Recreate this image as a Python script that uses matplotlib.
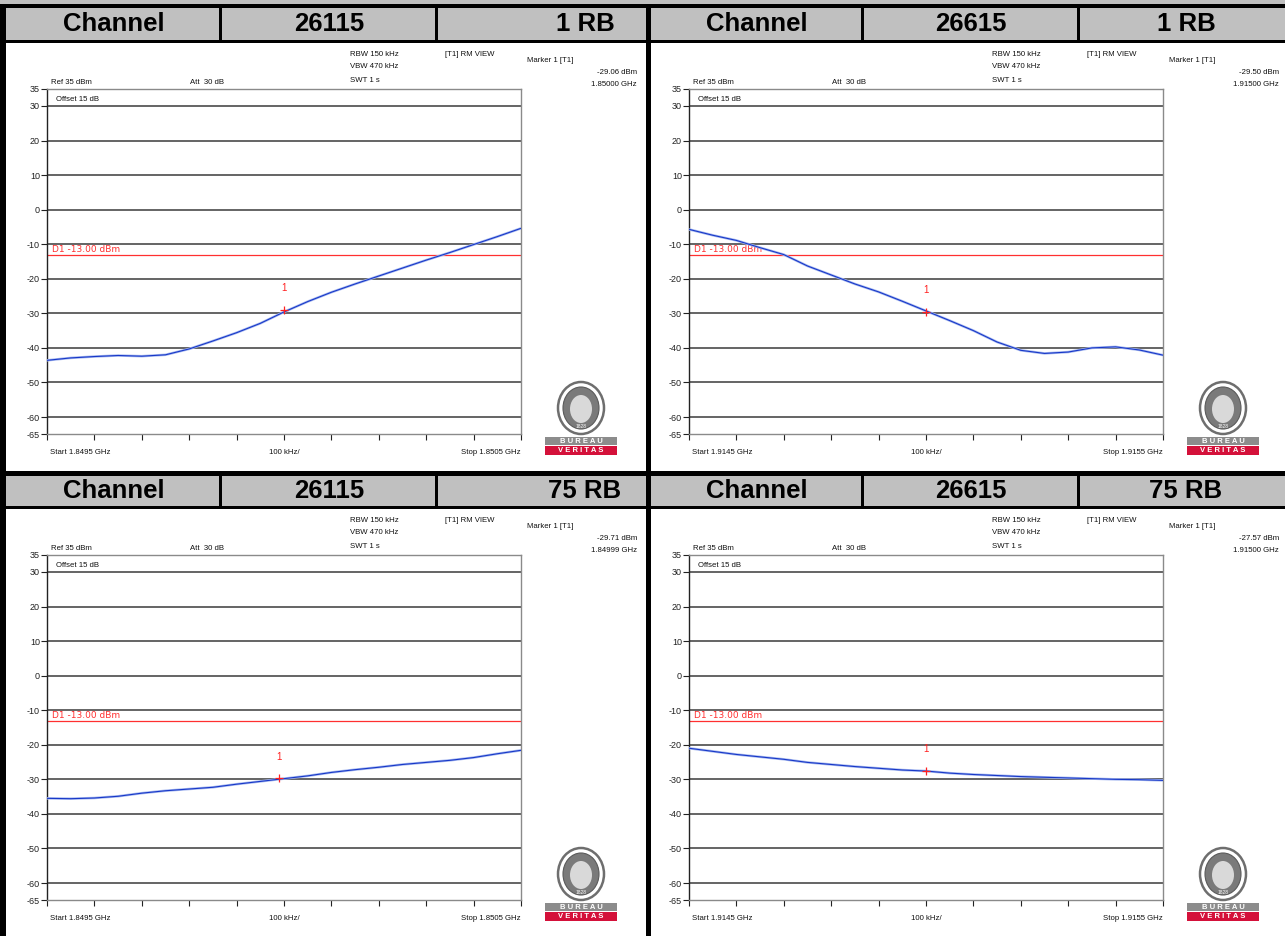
import matplotlib
matplotlib.use("Agg")
import matplotlib.pyplot as plt
from matplotlib.patches import Rectangle, Ellipse
import numpy as np

plt.rcParams['font.family'] = ['Liberation Sans', 'DejaVu Sans']

# ---------------- data ----------------
freq_khz = [0, 50, 100, 150, 200, 250, 300, 350, 400, 450, 500,
            550, 600, 650, 700, 750, 800, 850, 900, 950, 1000]

trace_26115_1rb = [-43.6, -42.9, -42.5, -42.2, -42.4, -42.0, -40.3, -38.0, -35.6, -32.9, -29.6,
                   -26.6, -23.9, -21.5, -19.2, -16.9, -14.6, -12.4, -10.1, -7.8, -5.4]
trace_26615_1rb = [-5.7, -7.4, -8.9, -11.0, -13.0, -16.3, -18.9, -21.5, -23.8, -26.5, -29.3,
                   -32.1, -35.0, -38.3, -40.7, -41.6, -41.2, -40.0, -39.7, -40.6, -42.1]
trace_26115_75rb = [-35.5, -35.6, -35.4, -34.9, -34.0, -33.3, -32.8, -32.3, -31.4, -30.6, -29.8,
                    -29.0, -28.0, -27.2, -26.5, -25.7, -25.1, -24.5, -23.7, -22.6, -21.6]
trace_26615_75rb = [-21.0, -21.9, -22.8, -23.5, -24.2, -25.1, -25.7, -26.3, -26.8, -27.3, -27.6,
                    -28.2, -28.6, -28.9, -29.2, -29.4, -29.6, -29.8, -30.0, -30.1, -30.3]

channels = ["26115", "26615", "26115", "26615"]
rbs = ["1 RB", "1 RB", "75 RB", "75 RB"]
marker_level = ["-29.06 dBm", "-29.50 dBm", "-29.71 dBm", "-27.57 dBm"]
marker_freq = ["1.85000 GHz", "1.91500 GHz", "1.84999 GHz", "1.91500 GHz"]
marker_x_khz = [500, 500, 490, 500]
marker_y_dbm = [-29.06, -29.50, -29.71, -27.57]
start_labels = ["Start 1.8495 GHz", "Start 1.9145 GHz", "Start 1.8495 GHz", "Start 1.9145 GHz"]
stop_labels = ["Stop 1.8505 GHz", "Stop 1.9155 GHz", "Stop 1.8505 GHz", "Stop 1.9155 GHz"]
traces = [trace_26115_1rb, trace_26615_1rb, trace_26115_75rb, trace_26615_75rb]
y_ticks = [35, 30, 20, 10, 0, -10, -20, -30, -40, -50, -60, -65]
grid_levels = [30, 20, 10, 0, -10, -20, -30, -40, -50, -60]
limit_dbm = -13.0

# ---------------- figure ----------------
W, H = 1285, 936
fig = plt.figure(figsize=(W / 100, H / 100), dpi=100)
fig.patch.set_facecolor("white")

ov = fig.add_axes([0, 0, 1, 1])
ov.set_xlim(0, W)
ov.set_ylim(H, 0)
ov.axis("off")

GRAY = "#c0c0c0"
BLACK = "#000000"

def rect(x0, y0, x1, y1, color, z=1):
    ov.add_patch(Rectangle((x0, y0), x1 - x0, y1 - y0, facecolor=color, edgecolor="none", zorder=z))

# top strip
rect(0, 0, W, 4, GRAY)
rect(0, 4, W, 8, BLACK)
# header rows
for (hy0, hy1) in [(8, 40), (476, 506)]:
    rect(0, hy0, W, hy1, GRAY)
    for (sx0, sx1) in [(0, 6), (219, 222), (435, 438), (646, 651), (861, 864), (1077, 1080)]:
        rect(sx0, hy0, sx1, hy1, BLACK, 2)
rect(0, 40, W, 43, BLACK)
rect(0, 471, W, 476, BLACK)
rect(0, 506, W, 509, BLACK)
# vertical borders in panels
for (py0, py1) in [(43, 471), (509, H)]:
    rect(0, py0, 6, py1, BLACK)
    rect(646, py0, 651, py1, BLACK)

hdr_centers = [[114, 329, 585], [757, 971, 1186]]
panel_origin = [(0, 0), (642, 0), (0, 466), (642, 466)]

def draw_logo(cx, cy):
    ov.add_patch(Ellipse((cx, cy), 46, 52, facecolor="white", edgecolor="#6e6e6e", lw=1.8, zorder=3))
    ov.add_patch(Ellipse((cx, cy), 36, 42, facecolor="#7a7a7a", edgecolor="#5a5a5a", lw=0.8, zorder=3))
    ov.add_patch(Ellipse((cx, cy + 1), 22, 28, facecolor="#d9d9d9", edgecolor="none", zorder=3))
    ov.text(cx, cy + 18, "1828", fontsize=3.5, color="white", ha="center", va="center", zorder=4)
    ov.add_patch(Rectangle((cx - 36, cy + 29), 72, 8, facecolor="#8c8c8c", edgecolor="none", zorder=3))
    ov.add_patch(Rectangle((cx - 36, cy + 38), 72, 9, facecolor="#d4113a", edgecolor="none", zorder=3))
    ov.text(cx, cy + 33.3, "B U R E A U", fontsize=5.5, color="white", fontweight="bold",
            ha="center", va="center", zorder=4)
    ov.text(cx, cy + 42.8, "V E R I T A S", fontsize=5.5, color="white", fontweight="bold",
            ha="center", va="center", zorder=4)

FS = 5.6
for i in range(4):
    ox, oy = panel_origin[i]
    col = i % 2
    # header text
    hy = 24 if i < 2 else 491
    for cx, txt in zip(hdr_centers[col], ["Channel", channels[i], rbs[i]]):
        ov.text(cx, hy, txt, fontsize=18.5, fontweight="bold", ha="center", va="center", zorder=4)

    # info texts
    t = dict(fontsize=FS, color="#111111", zorder=4, va="center")
    ov.text(ox + 350, oy + 55, "RBW 150 kHz", ha="left", **t)
    ov.text(ox + 350, oy + 67, "VBW 470 kHz", ha="left", **t)
    ov.text(ox + 350, oy + 80, "SWT 1 s", ha="left", **t)
    ov.text(ox + 445, oy + 55, "[T1] RM VIEW", ha="left", **t)
    ov.text(ox + 527, oy + 60, "Marker 1 [T1]", ha="left", **t)
    ov.text(ox + 637, oy + 72, marker_level[i], ha="right", **t)
    ov.text(ox + 637, oy + 85, marker_freq[i], ha="right", **t)
    ov.text(ox + 51, oy + 82, "Ref 35 dBm", ha="left", **t)
    ov.text(ox + 190, oy + 82, "Att  30 dB", ha="left", **t)
    ov.text(ox + 50, oy + 452, start_labels[i], ha="left", **t)
    ov.text(ox + 284, oy + 452, "100 kHz/", ha="center", **t)
    ov.text(ox + 521, oy + 452, stop_labels[i], ha="right", **t)

    draw_logo(ox + 581, oy + 408)

    # data axes
    ax_l, ax_r = ox + 47, ox + 521
    ax_t, ax_b = oy + 88.7, oy + 434.3
    ax = fig.add_axes([ax_l / W, 1 - ax_b / H, (ax_r - ax_l) / W, (ax_b - ax_t) / H])
    ax.set_facecolor("white")
    ax.set_xlim(0, 1000)
    ax.set_ylim(-65, 35)
    for lv in grid_levels:
        ax.axhline(lv, color="#3a3a3a", lw=1.1, zorder=1)
    ax.axhline(limit_dbm, color="#ff3030", lw=0.9, zorder=2)
    ax.text(10, limit_dbm + 0.3, "D1 -13.00 dBm", color="#ff3030", fontsize=6.5,
            family="DejaVu Sans", ha="left", va="bottom", zorder=3)
    ax.text(20, 31.0, "Offset 15 dB", fontsize=FS, color="#111111", ha="left", va="bottom", zorder=3)

    x = np.array(freq_khz, dtype=float)
    y = np.array(traces[i], dtype=float)
    ax.plot(x, y, color="#a8baf0", lw=1.8, zorder=3, solid_capstyle="butt")
    ax.plot(x, y, color="#1838c8", lw=0.8, zorder=4)

    ax.plot([marker_x_khz[i]], [marker_y_dbm[i]], marker="+", color="#ff2020",
            markersize=6, mew=0.9, zorder=5)
    ax.annotate("1", (marker_x_khz[i], marker_y_dbm[i]), xytext=(0, 12),
                textcoords="offset points", color="#ff2020", fontsize=7,
                ha="center", va="bottom", zorder=5)

    for s in ["top", "right", "bottom"]:
        ax.spines[s].set_color("#8a8a8a")
        ax.spines[s].set_linewidth(1.0)
    ax.spines["left"].set_color("#222222")
    ax.spines["left"].set_linewidth(1.0)

    ax.set_yticks(y_ticks)
    ax.set_yticklabels([str(v) for v in y_ticks])
    ax.tick_params(axis="y", direction="out", length=4, width=0.8, colors="#222222",
                   labelsize=6.5, pad=1)
    ax.set_xticks(list(range(0, 1001, 100)))
    ax.set_xticklabels([])
    ax.tick_params(axis="x", direction="out", length=4.5, width=0.8, colors="#222222")

fig.savefig("out.png", dpi=100)
